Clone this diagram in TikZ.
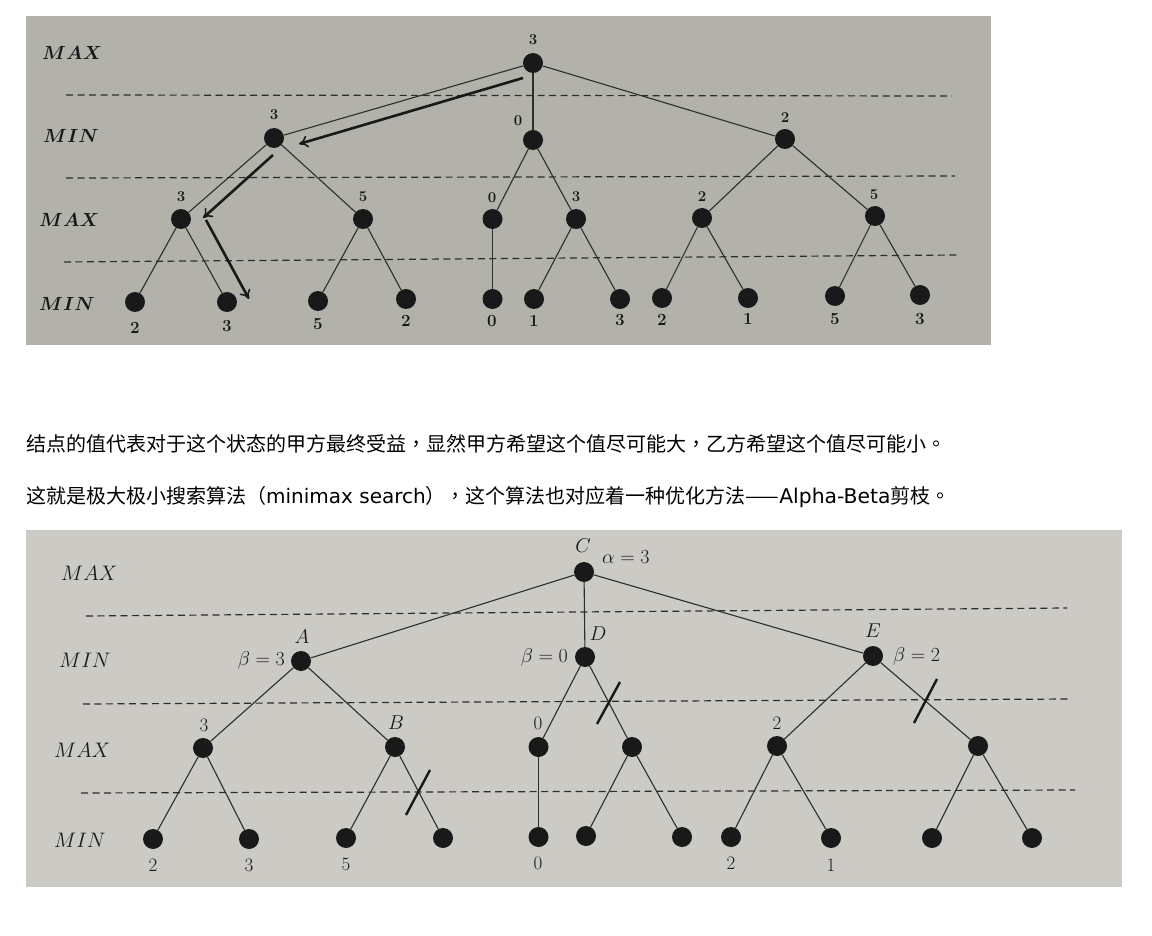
\RequirePackage{fix-cm}
\documentclass[tikz,border=0pt]{standalone}
\usepackage{fontspec}
\newfontfamily\cjk{Noto Sans CJK SC}
\newfontfamily\cjkp{Noto Sans CJK TC}
\newfontfamily\dvs{DejaVu Sans}
\usetikzlibrary{arrows.meta}
\definecolor{photoA}{RGB}{178,177,170}
\definecolor{photoB}{RGB}{204,202,196}
\definecolor{ink}{RGB}{25,25,25}
\definecolor{lineink}{RGB}{45,45,45}
\newcommand{\pc}[1]{{\cjkp #1}}
\begin{document}
\begin{tikzpicture}[x=1pt,y=-1pt,
  tnode/.style={circle,fill=ink,inner sep=0pt,minimum size=20pt},
  tedge/.style={draw=lineink,line width=1.1pt},
  hline/.style={draw=lineink,line width=1.2pt,dash pattern=on 7pt off 4.5pt},
  garrow/.style={draw=ink,line width=2.6pt,-{To[length=9pt,width=12pt,line width=1.6pt]}},
  cut/.style={draw=ink,line width=2.4pt},
  toplvl/.style={anchor=west,inner sep=0pt,text=ink,font=\fontsize{19}{22}\selectfont\boldmath},
  botlvl/.style={anchor=west,inner sep=0pt,text=ink,font=\fontsize{21}{24}\selectfont},
  tnum/.style={inner sep=0pt,text=ink,font=\fontsize{15}{18}\selectfont\bfseries},
  tleaf/.style={inner sep=0pt,text=ink,font=\fontsize{17}{20}\selectfont\bfseries},
  bnum/.style={inner sep=0pt,text=ink,font=\fontsize{19}{22}\selectfont},
  bmath/.style={inner sep=0pt,text=ink,font=\fontsize{20}{24}\selectfont},
  para/.style={anchor=base west,inner sep=0pt,text=black}
]
\useasboundingbox[fill=white] (0,0) rectangle (1152,936);

% ---------- photos ----------
\fill[photoA] (26,16) rectangle (991,345);
\fill[photoB] (26,530) rectangle (1122,887);

% ---------- top tree ----------
\draw[hline] (66,95) -- (952,96);
\draw[hline] (66,178) -- (955,176);
\draw[hline] (64,262) -- (958,255);

\node[toplvl] (tl1) at (42,53) {$MAX$};
\node[toplvl] (tl2) at (43,136) {$MIN$};
\node[toplvl] (tl3) at (39,220) {$MAX$};
\node[toplvl] (tl4) at (39,304) {$MIN$};

\node[tnode] (t0) at (533,63) {};
\node[tnode] (t1) at (274,138) {};
\node[tnode] (t2) at (533,140) {};
\node[tnode] (t3) at (785,139) {};
\node[tnode] (t11) at (181,219) {};
\node[tnode] (t12) at (363,219) {};
\node[tnode] (t21) at (492.5,219) {};
\node[tnode] (t22) at (576,219) {};
\node[tnode] (t31) at (702,218) {};
\node[tnode] (t32) at (875,216) {};
\node[tnode] (l1) at (135,302) {};
\node[tnode] (l2) at (227,302) {};
\node[tnode] (l3) at (318,301) {};
\node[tnode] (l4) at (406,299) {};
\node[tnode] (l5) at (492.5,299) {};
\node[tnode] (l6) at (534,299) {};
\node[tnode] (l7) at (620,299) {};
\node[tnode] (l8) at (662,298) {};
\node[tnode] (l9) at (748,298) {};
\node[tnode] (l10) at (835,296) {};
\node[tnode] (l11) at (920,295) {};

\draw[tedge] (t0) -- (t1);
\draw[tedge] (t0) -- (t2);
\draw[tedge] (t0) -- (t3);
\draw[tedge] (t1) -- (t11);
\draw[tedge] (t1) -- (t12);
\draw[tedge] (t2) -- (t21);
\draw[tedge] (t2) -- (t22);
\draw[tedge] (t3) -- (t31);
\draw[tedge] (t3) -- (t32);
\draw[tedge] (t11) -- (l1);
\draw[tedge] (t11) -- (l2);
\draw[tedge] (t12) -- (l3);
\draw[tedge] (t12) -- (l4);
\draw[tedge] (t21) -- (l5);
\draw[tedge] (t22) -- (l6);
\draw[tedge] (t22) -- (l7);
\draw[tedge] (t31) -- (l8);
\draw[tedge] (t31) -- (l9);
\draw[tedge] (t32) -- (l10);
\draw[tedge] (t32) -- (l11);

\coordinate (a1s) at (523,78);
\coordinate (a1e) at (299,144);
\coordinate (a2s) at (273,155);
\coordinate (a2e) at (203,218);
\coordinate (a3s) at (206,220);
\coordinate (a3e) at (249,299);
\draw[garrow] (a1s) -- (a1e);
\draw[garrow] (a2s) -- (a2e);
\draw[garrow] (a3s) -- (a3e);

\node[tnum] (v0) at (533,40) {3};
\node[tnum] (v1) at (274,115) {3};
\node[tnum] (v2) at (518,121) {0};
\node[tnum] (v3) at (785,118) {2};
\node[tnum] (v11) at (181,197) {3};
\node[tnum] (v12) at (363,197) {5};
\node[tnum] (v21) at (492,198) {0};
\node[tnum] (v22) at (576,197) {3};
\node[tnum] (v31) at (702,197) {2};
\node[tnum] (v32) at (874,195) {5};
\node[tleaf] (w1) at (135,328) {2};
\node[tleaf] (w2) at (227,326) {3};
\node[tleaf] (w3) at (318,324) {5};
\node[tleaf] (w4) at (406,321) {2};
\node[tleaf] (w5) at (492,321) {0};
\node[tleaf] (w6) at (534,321) {1};
\node[tleaf] (w7) at (620,320) {3};
\node[tleaf] (w8) at (662,320) {2};
\node[tleaf] (w9) at (748,319) {1};
\node[tleaf] (w10) at (835,319) {5};
\node[tleaf] (w11) at (920,319) {3};

% ---------- text lines ----------
\node[para] (p1) at (26,451) {\cjk\fontsize{20}{24}\selectfont 结点的值代表对于这个状态的甲方最终受益\pc{，}显然甲方希望这个值尽可能大\pc{，}乙方希望这个值尽可能小\pc{。}};
\node[para] (p2) at (26,503) {\fontsize{20}{24}\selectfont{\cjk 这就是极大极小搜索算法（}{\dvs\fontsize{20}{24}\selectfont minimax search}{\cjk ）}\pc{，}{\cjk 这个算法也对应着一种优化方法——}{\dvs\fontsize{20.3}{24}\selectfont Alpha-Beta}{\cjk 剪枝}\pc{。}};

% ---------- bottom tree ----------
\draw[hline] (86,616) -- (1067,608);
\draw[hline] (83,704) -- (1072,699);
\draw[hline] (81,793) -- (1075,790);

\node[botlvl] (bl1) at (61,573) {$MAX$};
\node[botlvl] (bl2) at (59,660) {$MIN$};
\node[botlvl] (bl3) at (54,750) {$MAX$};
\node[botlvl] (bl4) at (54,840) {$MIN$};

\node[tnode] (C) at (584,572) {};
\node[tnode] (A) at (301,661) {};
\node[tnode] (D) at (585,657) {};
\node[tnode] (E) at (873,656) {};
\node[tnode] (m1) at (203,748) {};
\node[tnode] (B) at (395,747) {};
\node[tnode] (m3) at (538.5,747) {};
\node[tnode] (m4) at (632,747) {};
\node[tnode] (m5) at (777,746) {};
\node[tnode] (m6) at (978,746) {};
\node[tnode] (k1) at (153,839) {};
\node[tnode] (k2) at (249,839) {};
\node[tnode] (k3) at (346,838) {};
\node[tnode] (k4) at (443,838) {};
\node[tnode] (k5) at (538.5,837) {};
\node[tnode] (k6) at (586,836) {};
\node[tnode] (k7) at (682,837) {};
\node[tnode] (k8) at (731,837) {};
\node[tnode] (k9) at (831,838) {};
\node[tnode] (k10) at (932,838) {};
\node[tnode] (k11) at (1032,838) {};

\draw[tedge] (C) -- (A);
\draw[tedge] (C) -- (D);
\draw[tedge] (C) -- (E);
\draw[tedge] (A) -- (m1);
\draw[tedge] (A) -- (B);
\draw[tedge] (D) -- (m3);
\draw[tedge] (D) -- (m4);
\draw[tedge] (E) -- (m5);
\draw[tedge] (E) -- (m6);
\draw[tedge] (m1) -- (k1);
\draw[tedge] (m1) -- (k2);
\draw[tedge] (B) -- (k3);
\draw[tedge] (B) -- (k4);
\draw[tedge] (m3) -- (k5);
\draw[tedge] (m4) -- (k6);
\draw[tedge] (m4) -- (k7);
\draw[tedge] (m5) -- (k8);
\draw[tedge] (m5) -- (k9);
\draw[tedge] (m6) -- (k10);
\draw[tedge] (m6) -- (k11);

\coordinate (c1a) at (620,682);
\coordinate (c1b) at (597,724);
\coordinate (c2a) at (430,770);
\coordinate (c2b) at (406,815);
\coordinate (c3a) at (937,679);
\coordinate (c3b) at (914,723);
\draw[cut] (c1a) -- (c1b);
\draw[cut] (c2a) -- (c2b);
\draw[cut] (c3a) -- (c3b);

\node[bmath] (lC) at (583,546) {$C$};
\node[bmath] (lA) at (302,637) {$A$};
\node[bmath] (lD) at (598,634) {$D$};
\node[bmath] (lE) at (873,631) {$E$};
\node[bmath] (lB) at (396,723) {$B$};
\node[bmath,anchor=west] (al) at (602,557) {$\alpha=3$};
\node[bmath,anchor=east] (be3) at (285,660) {$\beta=3$};
\node[bmath,anchor=east] (be0) at (568,657) {$\beta=0$};
\node[bmath,anchor=west] (be2) at (893,656) {$\beta=2$};

\node[bnum] (n1) at (204,725) {3};
\node[bnum] (n3) at (538,723) {0};
\node[bnum] (n5) at (777,723) {2};
\node[bnum] (q1) at (153,865) {2};
\node[bnum] (q2) at (249,865) {3};
\node[bnum] (q3) at (346,864) {5};
\node[bnum] (q5) at (538,863) {0};
\node[bnum] (q8) at (731,863) {2};
\node[bnum] (q9) at (831,865) {1};
\end{tikzpicture}
\end{document}
